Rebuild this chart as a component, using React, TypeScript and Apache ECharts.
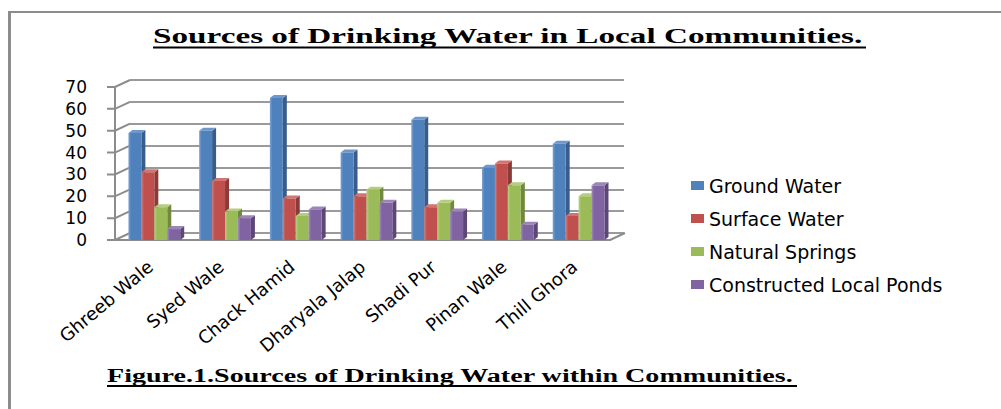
import React, { useEffect, useRef } from 'react';
import * as echarts from 'echarts';

const categories = ['Ghreeb Wale', 'Syed Wale', 'Chack Hamid', 'Dharyala Jalap', 'Shadi Pur', 'Pinan Wale', 'Thill Ghora'];
const groundWater = [49, 50, 65, 40, 55, 33, 44];
const surfaceWater = [31, 27, 19, 20, 15, 35, 11];
const naturalSprings = [15, 13, 11, 23, 17, 25, 20];
const constructedPonds = [5, 10, 14, 17, 13, 7, 25];
const yTicks = [0, 10, 20, 30, 40, 50, 60, 70];
const seriesNames = ['Ground Water', 'Surface Water', 'Natural Springs', 'Constructed Local Ponds'];
const titleText = 'Sources of Drinking Water in Local Communities.';
const captionText = 'Figure.1.Sources of Drinking Water within Communities.';

const palette = [
  { front: '#4F81BD', light: '#7DA3D4', side: '#385D8A', top: '#6E98CC' },
  { front: '#C0504D', light: '#D4807D', side: '#8C3A38', top: '#D27471' },
  { front: '#9BBB59', light: '#B7D083', side: '#71893F', top: '#B4CD7F' },
  { front: '#8064A2', light: '#A28DBE', side: '#5C4776', top: '#9C86B9' },
];

const GRAY = '#8c8c8c';

function makeBarRender(s: number) {
  const c = palette[s];
  return (params: any, api: any) => {
    const ci = api.value(0);
    const v = api.value(1);
    const base = api.coord([ci, 0]);
    const topP = api.coord([ci, v]);
    const band = api.size([1, 0])[0];
    const bw = band * 0.183;
    const x = base[0] - band / 2 + band * 0.19 + s * bw;
    const yb = base[1];
    const yt = topP[1];
    const d = 4;
    const dy = 3;
    return {
      type: 'group',
      children: [
        {
          type: 'polygon',
          shape: { points: [[x + bw, yt], [x + bw + d, yt - dy], [x + bw + d, yb - dy], [x + bw, yb]] },
          style: { fill: c.side },
        },
        {
          type: 'polygon',
          shape: { points: [[x, yt], [x + d, yt - dy], [x + bw + d, yt - dy], [x + bw, yt]] },
          style: { fill: c.top },
        },
        {
          type: 'rect',
          shape: { x, y: yt, width: bw, height: yb - yt },
          style: {
            fill: new echarts.graphic.LinearGradient(0, 0, 1, 0, [
              { offset: 0, color: c.light },
              { offset: 0.2, color: c.front },
              { offset: 1, color: c.front },
            ]),
          },
        },
      ],
    };
  };
}

export default function App() {
  const ref = useRef<HTMLDivElement>(null);
  useEffect(() => {
    if (!ref.current) return;
    const chart = echarts.init(ref.current, null, { renderer: 'svg' });
    const valueSets = [groundWater, surfaceWater, naturalSprings, constructedPonds];
    const barSeries = valueSets.map((vals, s) => ({
      name: seriesNames[s],
      type: 'custom',
      xAxisIndex: 0,
      yAxisIndex: 0,
      z: 5,
      itemStyle: { color: palette[s].front },
      encode: { x: 0, y: 1 },
      data: vals.map((v, i) => [i, v]),
      renderItem: makeBarRender(s),
    }));
    const connectorSeries = {
      name: 'walls',
      type: 'custom',
      xAxisIndex: 0,
      yAxisIndex: 0,
      silent: true,
      z: 3,
      encode: { x: 0, y: 1 },
      data: yTicks.map((v) => [0, v]),
      renderItem: (params: any, api: any) => {
        const v = api.value(1);
        const p = api.coord([0, v]);
        const cs = params.coordSys;
        const x0 = cs.x;
        const children: any[] = [
          {
            type: 'polyline',
            shape: { points: [[x0 - 8, p[1]], [x0, p[1]], [x0 + 15, p[1] - 7]] },
            style: { stroke: GRAY, lineWidth: 2, fill: null },
          },
        ];
        if (v === 0) {
          children.push({
            type: 'line',
            shape: { x1: cs.x + cs.width, y1: p[1], x2: cs.x + cs.width + 15, y2: p[1] - 7 },
            style: { stroke: GRAY, lineWidth: 2 },
          });
        }
        return { type: 'group', children };
      },
    };

    const option: any = {
      animation: false,
      backgroundColor: '#ffffff',
      grid: [
        { left: 115, top: 87, width: 495, height: 153 },
        { left: 130, top: 80, width: 494, height: 153 },
      ],
      xAxis: [
        {
          type: 'category',
          gridIndex: 0,
          data: categories,
          axisLine: { show: true, lineStyle: { color: GRAY, width: 2 } },
          axisTick: { show: false },
          axisLabel: {
            rotate: 40,
            margin: 24,
            color: '#000',
            fontFamily: 'DejaVu Sans',
            fontSize: 18,
            interval: 0,
          },
          splitLine: { show: false },
        },
        {
          type: 'category',
          gridIndex: 1,
          data: categories,
          show: false,
        },
      ],
      yAxis: [
        {
          type: 'value',
          gridIndex: 0,
          min: 0,
          max: 70,
          interval: 10,
          axisLine: { show: true, lineStyle: { color: GRAY, width: 2 } },
          axisTick: { show: false },
          splitLine: { show: false },
          axisLabel: {
            margin: 28,
            color: '#000',
            fontFamily: 'DejaVu Sans',
            fontSize: 17,
          },
        },
        {
          type: 'value',
          gridIndex: 1,
          min: 0,
          max: 70,
          interval: 10,
          axisLine: { show: false },
          axisTick: { show: false },
          axisLabel: { show: false },
          splitLine: { show: true, lineStyle: { color: '#9a9a9a', width: 2 } },
        },
      ],
      legend: {
        orient: 'vertical',
        left: 686,
        top: 171,
        icon: 'rect',
        itemWidth: 13,
        itemHeight: 9,
        itemGap: 14,
        data: seriesNames,
        textStyle: { color: '#000', fontFamily: 'DejaVu Sans', fontSize: 19 },
      },
      graphic: [
        { type: 'line', shape: { x1: 8, y1: 12, x2: 1001, y2: 12 }, style: { stroke: GRAY, lineWidth: 2 } },
        { type: 'line', shape: { x1: 9.5, y1: 11, x2: 9.5, y2: 409 }, style: { stroke: GRAY, lineWidth: 3 } },
        {
          type: 'text',
          x: 153,
          y: 35.5,
          scaleX: 1.51,
          style: {
            text: titleText,
            font: 'bold 22px "Liberation Serif"',
            fill: '#000',
            textAlign: 'left',
            textVerticalAlign: 'middle',
          },
        },
        { type: 'line', shape: { x1: 153, y1: 47.5, x2: 866, y2: 47.5 }, style: { stroke: '#000', lineWidth: 2 } },
        {
          type: 'text',
          x: 107,
          y: 376,
          scaleX: 1.56,
          style: {
            text: captionText,
            font: 'bold 18px "Liberation Serif"',
            fill: '#000',
            textAlign: 'left',
            textVerticalAlign: 'middle',
          },
        },
        { type: 'line', shape: { x1: 107, y1: 386, x2: 797, y2: 386 }, style: { stroke: '#000', lineWidth: 2 } },
      ],
      series: [connectorSeries, ...barSeries],
    };
    chart.setOption(option);
    return () => chart.dispose();
  }, []);
  return <div ref={ref} style={{ position: 'absolute', left: 0, top: 0, width: 1001, height: 409 }} />;
}
